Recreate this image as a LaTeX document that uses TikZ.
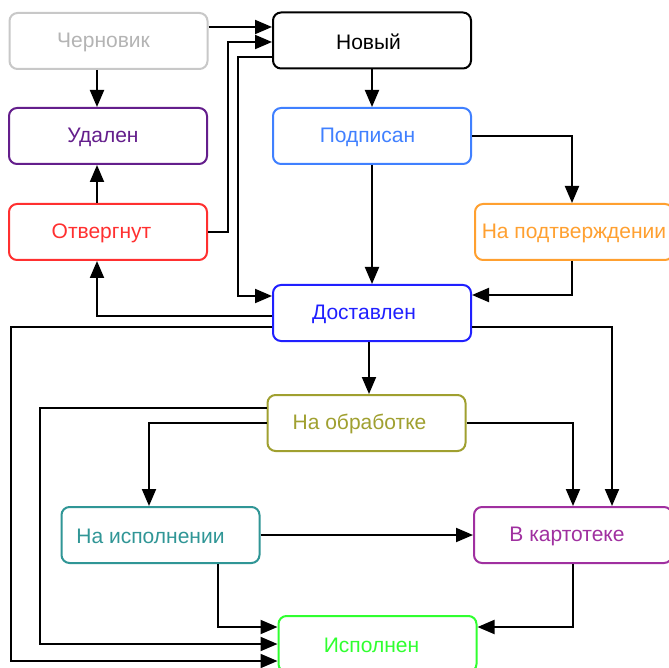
\documentclass[tikz,border=0pt]{standalone}
\usepackage{fontspec}
\setmainfont{Liberation Sans}
\usetikzlibrary{arrows.meta}
\definecolor{cgray}{RGB}{200,200,200}
\definecolor{cgrayt}{RGB}{180,180,180}
\definecolor{cdel}{RGB}{100,30,140}
\definecolor{csign}{RGB}{64,128,255}
\definecolor{crej}{RGB}{255,48,48}
\definecolor{cconf}{RGB}{255,160,48}
\definecolor{cdeliv}{RGB}{32,32,255}
\definecolor{cproc}{RGB}{160,160,48}
\definecolor{cexec}{RGB}{48,150,150}
\definecolor{cfile}{RGB}{160,48,160}
\definecolor{cdone}{RGB}{48,255,48}
\begin{document}
\begin{tikzpicture}[x=1pt,y=-1pt,
  font=\fontsize{21}{25}\selectfont,
  box/.style={draw, rounded corners=8pt, line width=2pt, minimum width=198pt,
    minimum height=56pt, inner sep=0pt, fill=white},
  arr/.style={line width=2pt, -{Triangle[length=17pt,width=14pt]}}]
\fill[white] (0,0) rectangle (669,668);
\useasboundingbox (0,0) rectangle (669,668);

\node[box, draw=cgray, label={[text=cgrayt, xshift=-5pt, yshift=-1pt]center:Черновик}] (cher) at (108.5,41) {};
\node[box, draw=black, label={[text=black, xshift=-3.5pt, yshift=-1pt]center:Новый}] (new) at (372,40.5) {};
\node[box, draw=cdel, label={[text=cdel, xshift=-5pt, yshift=-1pt]center:Удален}] (del) at (108,136) {};
\node[box, draw=csign, label={[text=csign, xshift=-4.5pt, yshift=-1pt]center:Подписан}] (sign) at (372,136) {};
\node[box, draw=crej, label={[text=crej, xshift=-6.5pt, yshift=-1pt]center:Отвергнут}] (rej) at (108,232) {};
\node[box, draw=cconf, label={[text=cconf, yshift=-1pt]center:На подтверждении}] (conf) at (574,232) {};
\node[box, draw=cdeliv, label={[text=cdeliv, xshift=-8pt, yshift=-1pt]center:Доставлен}] (deliv) at (372,313) {};
\node[box, draw=cproc, label={[text=cproc, xshift=-7pt, yshift=-1pt]center:На обработке}] (proc) at (366.5,423) {};
\node[box, draw=cexec, label={[text=cexec, xshift=-10pt, yshift=-1pt]center:На исполнении}] (exec) at (160.5,535) {};
\node[box, draw=cfile, label={[text=cfile, xshift=-6pt, yshift=-1pt]center:В картотеке}] (file) at (573,535) {};
\node[box, draw=cdone, label={[text=cdone, xshift=-6pt, yshift=-1pt]center:Исполнен}] (done) at (377.5,644) {};

% connectors
\draw[arr] ([yshift=14pt]cher.east) -- ([yshift=14pt]cher.east -| new.west);
\draw[arr] (rej.east) -- ++(20,0) |- ([yshift=-1.5pt]new.west);
\draw[arr] ([yshift=-16.5pt]new.west) -- ++(-34,0) |- ([yshift=17pt]deliv.west);
\draw[arr] ([xshift=-11.5pt]cher.south) -- ([xshift=-11.5pt]cher.south |- del.north);
\draw[arr] ([xshift=-11pt]rej.north) -- ([xshift=-11pt]rej.north |- del.south);
\draw[arr] ([yshift=-3pt]deliv.west) -| ([xshift=-11pt]rej.south);
\draw[arr] ([yshift=-14pt]deliv.west) -- ++(-261,0) |- ([yshift=-17pt]done.west);
\draw[arr] (new.south) -- (sign.north);
\draw[arr] (sign.east) -| ([xshift=-2pt]conf.north);
\draw[arr] (sign.south) -- (deliv.north);
\draw[arr] ([xshift=-2pt]conf.south) |- ([yshift=18pt]deliv.east);
\draw[arr] ([yshift=-14pt]deliv.east) -| ([xshift=39pt]file.north);
\draw[arr] ([xshift=-3pt]deliv.south) -- ([xshift=-3pt]deliv.south |- proc.north);
\draw[arr] ([yshift=15pt]proc.west) -- ++(-227,0) |- (done.west);
\draw[arr] (proc.west) -| ([xshift=-11.5pt]exec.north);
\draw[arr] (proc.east) -| (file.north);
\draw[arr] (exec.east) -- (file.west);
\draw[arr] ([xshift=57.5pt]exec.south) |- ([yshift=17pt]done.west);
\draw[arr] (file.south) |- ([yshift=17pt]done.east);
\end{tikzpicture}
\end{document}
